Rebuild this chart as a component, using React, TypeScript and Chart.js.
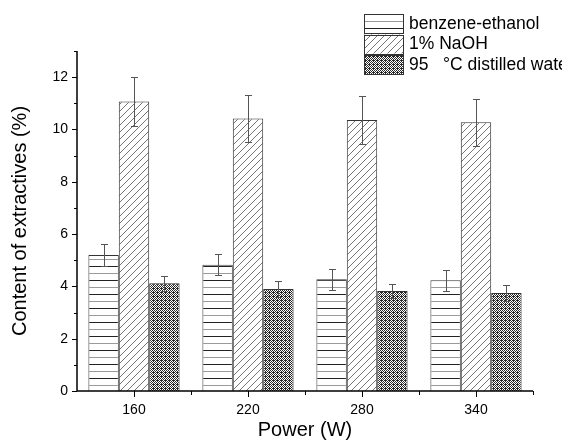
import React, { useEffect, useRef } from 'react';
import { Chart, registerables } from 'chart.js';
Chart.register(...registerables);

const categories = ['160', '220', '280', '340'];
const seriesNames = ['benzene-ethanol', '1% NaOH', '95   °C distilled water'];
const benzene = [5.2, 4.83, 4.27, 4.23];
const benzeneErr = [0.42, 0.4, 0.4, 0.4];
const naoh = [11.07, 10.42, 10.36, 10.28];
const naohErr = [0.92, 0.89, 0.91, 0.9];
const water = [4.12, 3.9, 3.82, 3.75];
const waterErr = [0.28, 0.3, 0.28, 0.29];
const yMax = 13;

const FONT = "Arial, 'Liberation Sans', sans-serif";

function makePattern(kind: string): CanvasPattern {
  const c = document.createElement('canvas');
  const ctx = c.getContext('2d')!;
  if (kind === 'h') {
    c.width = 8; c.height = 14;
    ctx.fillStyle = '#fff'; ctx.fillRect(0, 0, 8, 14);
    ctx.fillStyle = '#222'; ctx.fillRect(0, 0, 8, 1);
    ctx.fillStyle = '#9a9a9a'; ctx.fillRect(0, 7, 8, 1);
  } else if (kind === 'd') {
    c.width = 7; c.height = 7;
    ctx.fillStyle = '#fff'; ctx.fillRect(0, 0, 7, 7);
    ctx.strokeStyle = '#666'; ctx.lineWidth = 0.9;
    ctx.beginPath();
    ctx.moveTo(-1, 8); ctx.lineTo(8, -1);
    ctx.moveTo(-1, 1); ctx.lineTo(1, -1);
    ctx.moveTo(6, 8); ctx.lineTo(8, 6);
    ctx.stroke();
  } else {
    c.width = 4; c.height = 4;
    const img = ctx.createImageData(4, 4);
    for (let yy = 0; yy < 4; yy++) {
      for (let xx = 0; xx < 4; xx++) {
        const dark = (xx + yy) % 2 === 0 || (xx % 4 === 1 && yy % 4 === 0);
        const v = dark ? 40 : 255;
        const k = (yy * 4 + xx) * 4;
        img.data[k] = v; img.data[k + 1] = v; img.data[k + 2] = v; img.data[k + 3] = 255;
      }
    }
    ctx.putImageData(img, 0, 0);
  }
  return ctx.createPattern(c, 'repeat')!;
}

export default function App() {
  const ref = useRef<HTMLCanvasElement | null>(null);
  useEffect(() => {
    const canvas = ref.current!;
    const patterns = [makePattern('h'), makePattern('d'), makePattern('x')];
    const vals = [benzene, naoh, water];
    const errs = [benzeneErr, naohErr, waterErr];

    const custom = {
      id: 'custom',
      afterDatasetsDraw(chart: any) {
        const ctx = chart.ctx as CanvasRenderingContext2D;
        const y = chart.scales.y;
        const x = chart.scales.x;
        ctx.save();
        chart.data.datasets.forEach((_ds: any, di: number) => {
          const meta = chart.getDatasetMeta(di);
          meta.data.forEach((bar: any, i: number) => {
            const cx = Math.round(bar.x) + 0.5;
            const top = Math.round(y.getPixelForValue(vals[di][i] + errs[di][i])) + 0.5;
            const bot = Math.round(y.getPixelForValue(vals[di][i] - errs[di][i])) + 0.5;
            ctx.strokeStyle = '#555';
            ctx.lineWidth = 1;
            ctx.beginPath();
            ctx.moveTo(cx, top); ctx.lineTo(cx, bot);
            ctx.moveTo(cx - 3.5, top); ctx.lineTo(cx + 3.5, top);
            ctx.moveTo(cx - 3.5, bot); ctx.lineTo(cx + 3.5, bot);
            ctx.stroke();
          });
        });
        const area = chart.chartArea;
        ctx.strokeStyle = '#000';
        ctx.lineWidth = 1.5;
        ctx.beginPath();
        ctx.moveTo(area.left, area.top);
        ctx.lineTo(area.left, area.bottom);
        ctx.lineTo(area.right, area.bottom);
        ctx.stroke();
        ctx.lineWidth = 1;
        ctx.beginPath();
        for (let v = 0; v <= yMax; v++) {
          const py = Math.round(y.getPixelForValue(v)) + 0.5;
          const len = v % 2 === 0 ? 5 : 3;
          ctx.moveTo(area.left, py); ctx.lineTo(area.left - len, py);
        }
        for (let i = 0; i < categories.length; i++) {
          const px = Math.round(x.getPixelForValue(i)) + 0.5;
          ctx.moveTo(px, area.bottom); ctx.lineTo(px, area.bottom + 6);
          const bx = Math.round(x.getPixelForValue(i + 0.5)) + 0.5;
          ctx.moveTo(bx, area.bottom); ctx.lineTo(bx, area.bottom + 4);
        }
        ctx.stroke();
        ctx.restore();
      },
      afterDraw(chart: any) {
        const ctx = chart.ctx as CanvasRenderingContext2D;
        ctx.save();
        const bx = 364, bw = 39, bh = 19;
        const rows = [14, 34.5, 55];
        seriesNames.forEach((name, i) => {
          ctx.fillStyle = patterns[i];
          ctx.fillRect(bx, rows[i], bw, bh);
          ctx.strokeStyle = '#333';
          ctx.lineWidth = 1;
          ctx.strokeRect(bx + 0.5, Math.round(rows[i]) + 0.5, bw, bh);
          ctx.fillStyle = '#000';
          ctx.font = `17.5px ${FONT}`;
          ctx.textBaseline = 'middle';
          ctx.textAlign = 'left';
          ctx.fillText(name, 409, rows[i] + bh / 2 + 0.5);
        });
        ctx.restore();
      },
    };

    const chart = new Chart(canvas, {
      type: 'bar',
      data: {
        labels: categories,
        datasets: seriesNames.map((n, i) => ({
          label: n,
          data: vals[i],
          backgroundColor: patterns[i],
          borderColor: '#333',
          borderWidth: 1,
          categoryPercentage: 0.8,
          barPercentage: 1.0,
        })),
      },
      options: {
        responsive: false,
        animation: false,
        devicePixelRatio: 1,
        layout: { padding: { top: 51, right: 29, left: 0, bottom: 0 } },
        plugins: { legend: { display: false }, tooltip: { enabled: false } },
        scales: {
          x: {
            type: 'category',
            offset: true,
            grid: { display: false, drawTicks: false },
            border: { display: false },
            ticks: { color: '#000', font: { family: FONT, size: 14 }, padding: 11, maxRotation: 0 },
            title: { display: true, text: 'Power (W)', color: '#000', font: { family: FONT, size: 20 }, padding: { top: 0, bottom: 0 } },
            afterFit: (s: any) => { s.height = 51; },
          },
          y: {
            min: 0,
            max: yMax,
            grid: { display: false, drawTicks: false },
            border: { display: false },
            ticks: {
              stepSize: 1,
              autoSkip: false,
              color: '#000',
              font: { family: FONT, size: 14 },
              padding: 9,
              callback: (v: any) => (Number(v) % 2 === 0 ? String(v) : ''),
            },
            title: { display: true, text: 'Content of extractives (%)', color: '#000', font: { family: FONT, size: 20 }, padding: { top: 8, bottom: 0 } },
            afterFit: (s: any) => { s.width = 77; },
          },
        },
      },
      plugins: [custom],
    });
    return () => chart.destroy();
  }, []);

  return (
    <div style={{ position: 'fixed', left: 0, top: 0, width: 562, height: 442, background: '#fff' }}>
      <canvas ref={ref} width={562} height={442} style={{ display: 'block' }} />
    </div>
  );
}
